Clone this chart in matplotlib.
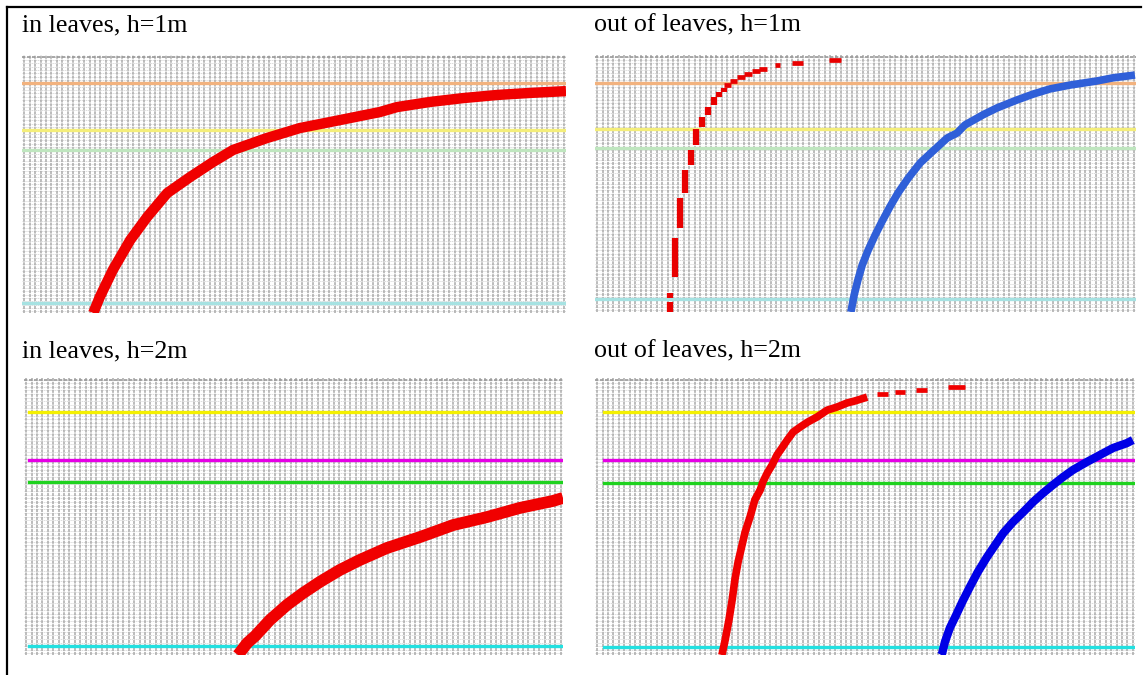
import numpy as np
import matplotlib.pyplot as plt
from matplotlib.lines import Line2D

# curve values, read in percent of each panel (x: 0-100 across, y: 0-100 up)
# in leaves, h=1m
p1_red_x = [13.1, 14.3, 16.7, 19.9, 23.0, 26.7, 30.9, 35.1, 38.8, 45.0, 51.1,
            58.5, 65.8, 68.9, 75.0, 81.1, 87.3, 93.4, 100.0]
p1_red_y = [0.0, 6.2, 16.7, 28.3, 37.2, 46.5, 52.7, 58.5, 63.2, 67.8, 71.7,
            74.8, 77.9, 79.8, 81.8, 83.3, 84.5, 85.3, 86.0]
p1_levels = [89.1, 70.9, 63.2, 3.9]
p1_level_colors = ['#f2b27e', '#f4ee7a', '#bfe6bf', '#a6e2e2']

# out of leaves, h=1m: red drawn in separate dashes
p2_red_vx = [13.8, 13.9, 14.7, 15.7, 16.7, 17.7, 18.7, 19.7, 20.9, 22.0, 22.9, 23.8]
p2_red_vlo = [0.0, 5.4, 13.6, 32.7, 46.3, 57.2, 65.0, 72.0, 76.7, 80.5, 83.7, 85.6]
p2_red_vhi = [3.9, 7.4, 28.8, 44.4, 55.3, 63.0, 71.2, 75.9, 79.8, 83.7, 85.6, 87.2]
p2_red_hy = [88.3, 89.9, 91.4, 92.6, 93.6, 94.6, 96.1, 96.9, 98.1]
p2_red_hlo = [23.8, 25.0, 26.2, 27.5, 29.0, 30.3, 33.3, 36.4, 43.3]
p2_red_hhi = [25.1, 26.2, 27.7, 29.0, 30.5, 31.8, 34.2, 38.4, 45.5]
p2_blue_x = [47.3, 47.9, 48.6, 49.4, 50.5, 51.8, 53.0, 54.5, 56.0, 57.9, 60.1,
             62.3, 65.1, 66.9, 68.4, 71.7, 74.3, 78.0, 81.0, 84.1, 87.8, 92.8,
             95.7, 99.8]
p2_blue_y = [0.0, 6.6, 12.5, 18.3, 24.1, 30.0, 35.0, 40.9, 46.3, 52.1, 58.0,
             62.3, 67.7, 69.6, 72.8, 76.7, 79.4, 82.5, 84.8, 86.8, 88.3, 89.9,
             91.1, 92.2]
p2_levels = [89.1, 71.2, 63.8, 5.1]

# in leaves, h=2m
p3_red_x = [39.7, 41.4, 42.9, 45.6, 48.8, 51.8, 54.9, 58.6, 62.3, 67.3, 73.5,
            79.6, 85.9, 92.0, 98.1, 100.0]
p3_red_y = [0.0, 4.3, 6.9, 12.6, 18.1, 22.4, 26.4, 30.7, 34.3, 38.6, 42.6,
            46.9, 49.8, 53.1, 55.6, 56.7]
p3_levels = [87.7, 70.4, 62.5, 3.2]
bright_colors = ['#f4f000', '#e600e6', '#1ed21e', '#22e0e0']

# out of leaves, h=2m
p4_red_x = [23.5, 24.1, 24.8, 25.4, 25.9, 26.5, 27.8, 28.7, 29.6, 30.6, 31.1,
            31.9, 32.8, 33.7, 34.6, 35.6, 36.7, 38.0, 39.4, 41.1, 43.0, 44.8,
            46.7, 48.1, 50.4]
p4_red_y = [0.0, 5.4, 12.6, 19.9, 27.1, 33.6, 44.4, 49.8, 56.0, 59.6, 62.5,
            65.7, 68.6, 72.2, 74.7, 77.6, 80.5, 82.3, 84.1, 85.9, 88.4, 89.5,
            91.0, 91.7, 93.1]
p4_red_hy = [94.2, 94.9, 95.7, 96.9]
p4_red_hlo = [52.2, 55.6, 59.4, 65.4]
p4_red_hhi = [54.3, 57.4, 61.5, 68.5]
p4_blue_x = [64.1, 64.3, 64.8, 65.7, 66.7, 68.0, 69.4, 70.9, 72.6, 74.1, 75.6,
             77.4, 79.3, 81.1, 83.0, 84.8, 86.7, 88.5, 91.1, 93.5, 95.9, 98.5,
             99.6]
p4_blue_y = [0.0, 0.7, 4.7, 9.7, 13.7, 19.1, 24.5, 30.0, 35.4, 39.7, 44.0,
             48.0, 51.6, 55.2, 58.5, 61.4, 64.3, 66.8, 69.7, 72.2, 74.7, 76.5,
             77.6]
p4_levels = [87.7, 70.4, 62.1, 2.9]

titles = ['in leaves, h=1m', 'out of leaves, h=1m',
          'in leaves, h=2m', 'out of leaves, h=2m']

W, H = 1143, 675
fig = plt.figure(figsize=(W / 100, H / 100), dpi=100)


def panel(l, t, r, b):
    ax = fig.add_axes([l / W, 1 - b / H, (r - l) / W, (b - t) / H])
    ax.set_xlim(0, 100)
    ax.set_ylim(0, 100)
    ax.axis('off')
    # spreadsheet-like background grid
    ax.hlines(np.arange(0.6, 100, 1.3), 0, 100, color='#d6d6d6', lw=0.6,
              linestyles=(0, (1.5, 0.8)))
    ax.vlines(np.linspace(0.4, 99.6, 100), 0, 100, color='#a9a9a9', lw=1.1,
              linestyles=(0, (2, 0.6)))
    ax.hlines(99.2, 0, 100, color='#9a9a9a', lw=1.2, linestyles=(0, (2, 1)))
    return ax


def levels(ax, ys, colors, lw, x0=0.0):
    for y, c in zip(ys, colors):
        ax.axhline(y, xmin=x0, xmax=1, color=c, lw=lw)


ax1 = panel(22, 55, 566, 313)
levels(ax1, p1_levels, p1_level_colors, 2.4)
ax1.plot(p1_red_x, p1_red_y, color='#f00000', lw=7.5, solid_capstyle='butt')

ax2 = panel(595, 55, 1136, 312)
levels(ax2, p2_levels, p1_level_colors, 2.4)
ax2.vlines(p2_red_vx, p2_red_vlo, p2_red_vhi, color='#e80000', lw=4.5)
ax2.hlines(p2_red_hy, p2_red_hlo, p2_red_hhi, color='#e80000', lw=3.4)
ax2.plot(p2_blue_x, p2_blue_y, color='#2f5fd8', lw=5.5, solid_capstyle='butt')

ax3 = panel(24, 378, 563, 655)
levels(ax3, p3_levels, bright_colors, 2.4, x0=0.01)
ax3.plot(p3_red_x, p3_red_y, color='#f00000', lw=8.5, solid_capstyle='butt')

ax4 = panel(595, 378, 1135, 655)
levels(ax4, p4_levels, bright_colors, 2.4, x0=0.017)
ax4.plot(p4_red_x, p4_red_y, color='#f00000', lw=5.5, solid_capstyle='butt')
ax4.hlines(p4_red_hy, p4_red_hlo, p4_red_hhi, color='#f00000', lw=3.4)
ax4.plot(p4_blue_x, p4_blue_y, color='#0000e6', lw=6, solid_capstyle='butt')

# panel titles
for (x, y), s in zip([(22, 31), (594, 31), (22, 357), (594, 357)], titles):
    fig.text(x / W, 1 - y / H, s, family='Liberation Serif', fontsize=18.7,
             va='baseline', ha='left')

# table frame
fig.add_artist(Line2D([7 / W, 7 / W], [0, 1 - 7 / H], color='black', lw=1.6))
fig.add_artist(Line2D([7 / W, 1141 / W], [1 - 7 / H, 1 - 7 / H], color='black', lw=1.6))

fig.savefig('out.png', dpi=100)
